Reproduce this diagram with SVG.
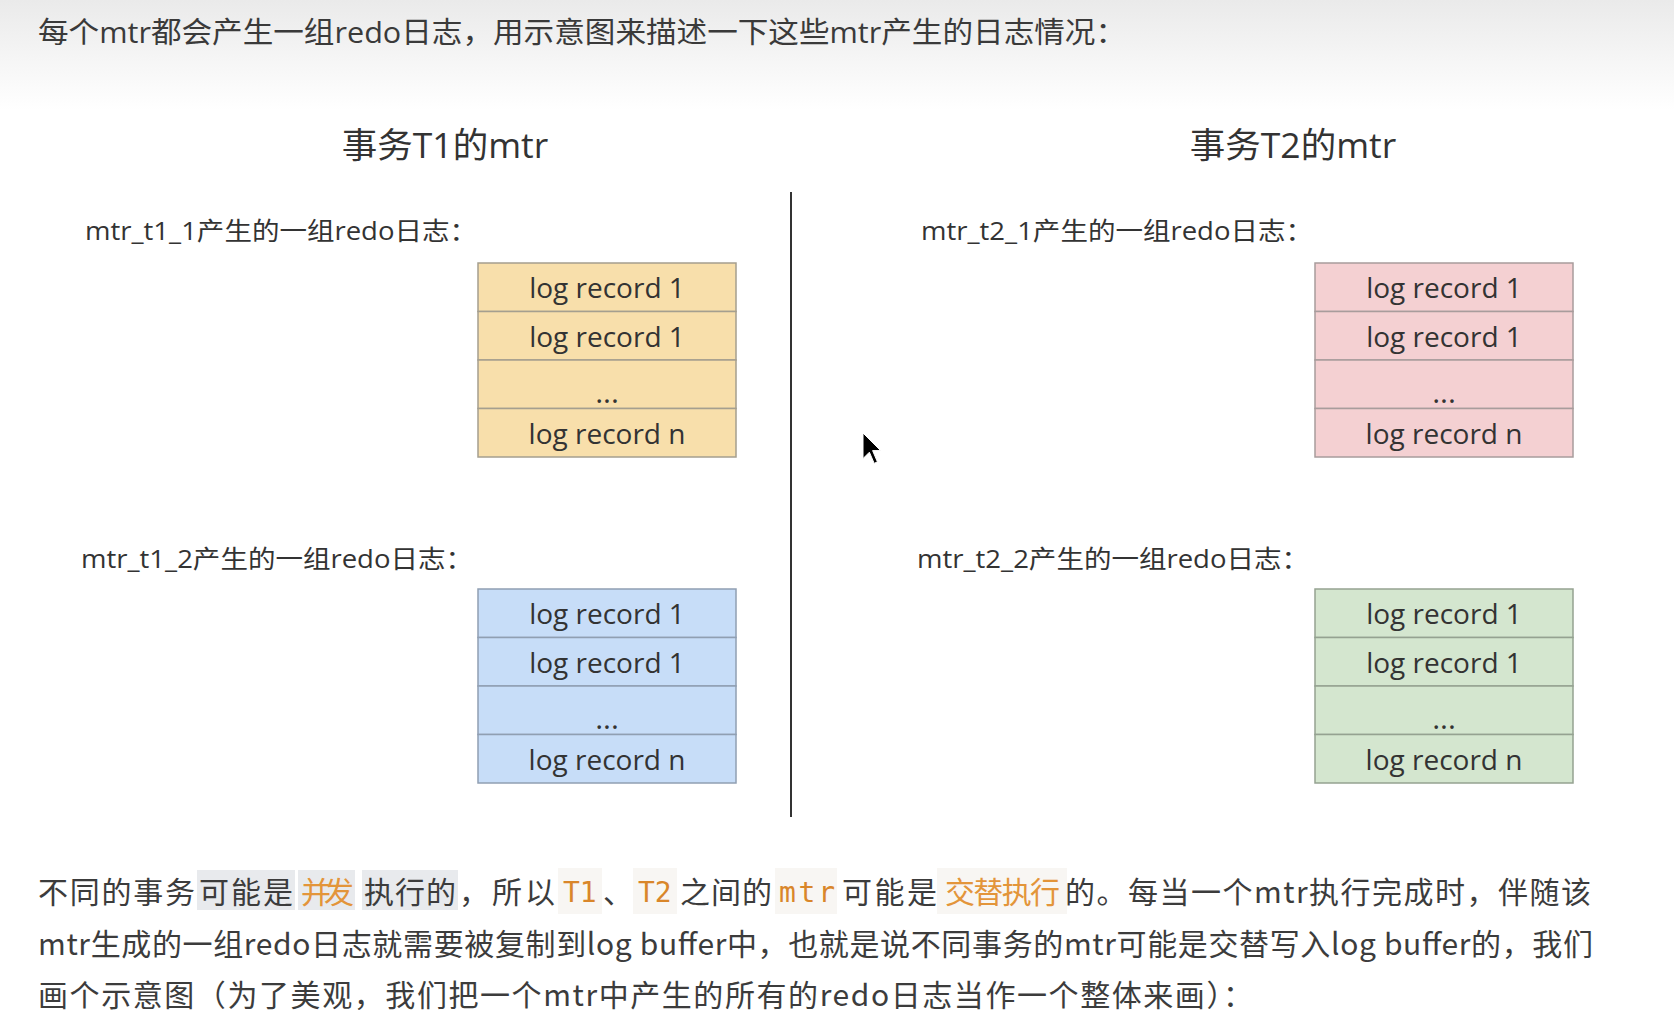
<svg xmlns="http://www.w3.org/2000/svg" width="1674" height="1033" viewBox="0 0 1674 1033">
<defs>
<linearGradient id="topfade" x1="0" y1="0" x2="0" y2="1">
<stop offset="0" stop-color="#eaeaea"/>
<stop offset="1" stop-color="#ffffff"/>
</linearGradient>
</defs>
<style>
.txt{font-family:"Open Sans","Noto Sans CJK SC",sans-serif;fill:#3a3a3a;}
.hdr{font-size:29px;}
.ttl{font-size:35.5px;text-anchor:middle;fill:#333;}
.sub{font-size:25px;fill:#333;}
.cell{font-family:"Open Sans","Noto Sans CJK SC",sans-serif;font-size:28px;fill:#333;text-anchor:middle;}
.dots{font-family:"Open Sans",sans-serif;font-size:30px;fill:#333;text-anchor:middle;}
.body{font-family:"Noto Sans CJK SC",sans-serif;font-size:30px;fill:#3c3c3c;}
.or{fill:#e3953a;}
.mono{font-family:"DejaVu Sans Mono","Liberation Mono",monospace;font-size:28px;fill:#d9862a;}
.hlg{fill:#e8eaed;}
.hlw{fill:#f8f6f3;}
.y{fill:#f8dfab;stroke:#a59f8f;stroke-width:1.5;}
.p{fill:#f4d0d2;stroke:#a89c9c;stroke-width:1.5;}
.b{fill:#c7ddf8;stroke:#909fb2;stroke-width:1.5;}
.g{fill:#d4e6cf;stroke:#95a291;stroke-width:1.5;}
</style>
<rect x="0" y="0" width="1674" height="1033" fill="#ffffff"/>
<rect x="0" y="0" width="1674" height="110" fill="url(#topfade)"/>

<g id="header">
<text class="txt hdr" x="38" y="43" textLength="1088" lengthAdjust="spacingAndGlyphs">每个mtr都会产生一组redo日志，用示意图来描述一下这些mtr产生的日志情况：</text>
</g>

<g id="title-t1"><text class="txt ttl" x="445" y="158">事务T1的mtr</text></g>
<g id="title-t2"><text class="txt ttl" x="1293" y="158">事务T2的mtr</text></g>

<g id="divider"><line x1="791" y1="192" x2="791" y2="817" stroke="#333" stroke-width="2"/></g>

<g id="label-t1-1"><text class="txt sub" x="85" y="240" textLength="392" lengthAdjust="spacingAndGlyphs">mtr_t1_1产生的一组redo日志：</text></g>
<g id="label-t1-2"><text class="txt sub" x="81" y="568" textLength="392" lengthAdjust="spacingAndGlyphs">mtr_t1_2产生的一组redo日志：</text></g>
<g id="label-t2-1"><text class="txt sub" x="921" y="240" textLength="392" lengthAdjust="spacingAndGlyphs">mtr_t2_1产生的一组redo日志：</text></g>
<g id="label-t2-2"><text class="txt sub" x="917" y="568" textLength="392" lengthAdjust="spacingAndGlyphs">mtr_t2_2产生的一组redo日志：</text></g>

<g id="box-t1-1">
<rect class="y" x="478" y="263" width="258" height="48.5"/>
<rect class="y" x="478" y="311.5" width="258" height="48.5"/>
<rect class="y" x="478" y="360" width="258" height="48.5"/>
<rect class="y" x="478" y="408.5" width="258" height="48.5"/>
<text class="cell" x="607" y="298">log record 1</text>
<text class="cell" x="607" y="346.5">log record 1</text>
<text class="dots" x="607" y="403">...</text>
<text class="cell" x="607" y="443.5">log record n</text>
</g>

<g id="box-t1-2">
<rect class="b" x="478" y="589" width="258" height="48.5"/>
<rect class="b" x="478" y="637.5" width="258" height="48.5"/>
<rect class="b" x="478" y="686" width="258" height="48.5"/>
<rect class="b" x="478" y="734.5" width="258" height="48.5"/>
<text class="cell" x="607" y="624">log record 1</text>
<text class="cell" x="607" y="672.5">log record 1</text>
<text class="dots" x="607" y="729">...</text>
<text class="cell" x="607" y="769.5">log record n</text>
</g>

<g id="box-t2-1">
<rect class="p" x="1315" y="263" width="258" height="48.5"/>
<rect class="p" x="1315" y="311.5" width="258" height="48.5"/>
<rect class="p" x="1315" y="360" width="258" height="48.5"/>
<rect class="p" x="1315" y="408.5" width="258" height="48.5"/>
<text class="cell" x="1444" y="298">log record 1</text>
<text class="cell" x="1444" y="346.5">log record 1</text>
<text class="dots" x="1444" y="403">...</text>
<text class="cell" x="1444" y="443.5">log record n</text>
</g>

<g id="box-t2-2">
<rect class="g" x="1315" y="589" width="258" height="48.5"/>
<rect class="g" x="1315" y="637.5" width="258" height="48.5"/>
<rect class="g" x="1315" y="686" width="258" height="48.5"/>
<rect class="g" x="1315" y="734.5" width="258" height="48.5"/>
<text class="cell" x="1444" y="624">log record 1</text>
<text class="cell" x="1444" y="672.5">log record 1</text>
<text class="dots" x="1444" y="729">...</text>
<text class="cell" x="1444" y="769.5">log record n</text>
</g>

<g id="cursor">
<polygon points="0,0 0,25.6 6.4,19.2 11.2,30.4 14.4,28.8 9.6,17.6 17.6,17.6" transform="translate(863,433)" fill="#000" stroke="#ffffff" stroke-width="1"/>
</g>

<g id="paragraph">
<rect class="hlg" x="197" y="870" width="98" height="40"/>
<rect class="hlg" x="298" y="870" width="57" height="40"/>
<rect class="hlg" x="362" y="870" width="96" height="40"/>
<rect class="hlw" x="558" y="868" width="44" height="46"/>
<rect class="hlw" x="633" y="868" width="44" height="46"/>
<rect class="hlw" x="775" y="868" width="62" height="46"/>
<rect class="hlw" x="937" y="868" width="130" height="46"/>
<text class="body" x="38" y="903" textLength="157" lengthAdjust="spacing">不同的事务</text>
<text class="body" x="199" y="903" textLength="94" lengthAdjust="spacing">可能是</text>
<text class="body or" x="301" y="903" textLength="53" lengthAdjust="spacing">并发</text>
<text class="body" x="364" y="903" textLength="92" lengthAdjust="spacing">执行的</text>
<text class="body" x="459" y="903" textLength="96" lengthAdjust="spacing">，所以</text>
<text class="mono" x="563" y="902">T1</text>
<text class="body" x="603" y="903">、</text>
<text class="mono" x="638" y="902">T2</text>
<text class="body" x="680" y="903" textLength="92" lengthAdjust="spacing">之间的</text>
<text class="mono" x="779" y="902" textLength="56" lengthAdjust="spacing">mtr</text>
<text class="body" x="842" y="903" textLength="95" lengthAdjust="spacing">可能是</text>
<text class="body or" x="945" y="903" textLength="115" lengthAdjust="spacing">交替执行</text>
<text class="body" x="1065" y="903" textLength="526" lengthAdjust="spacing">的。每当一个mtr执行完成时，伴随该</text>
<text class="body" x="38" y="955" textLength="1555" lengthAdjust="spacing">mtr生成的一组redo日志就需要被复制到log buffer中，也就是说不同事务的mtr可能是交替写入log buffer的，我们</text>
<text class="body" x="38" y="1006" textLength="1215" lengthAdjust="spacing">画个示意图（为了美观，我们把一个mtr中产生的所有的redo日志当作一个整体来画）：</text>
</g>
</svg>
